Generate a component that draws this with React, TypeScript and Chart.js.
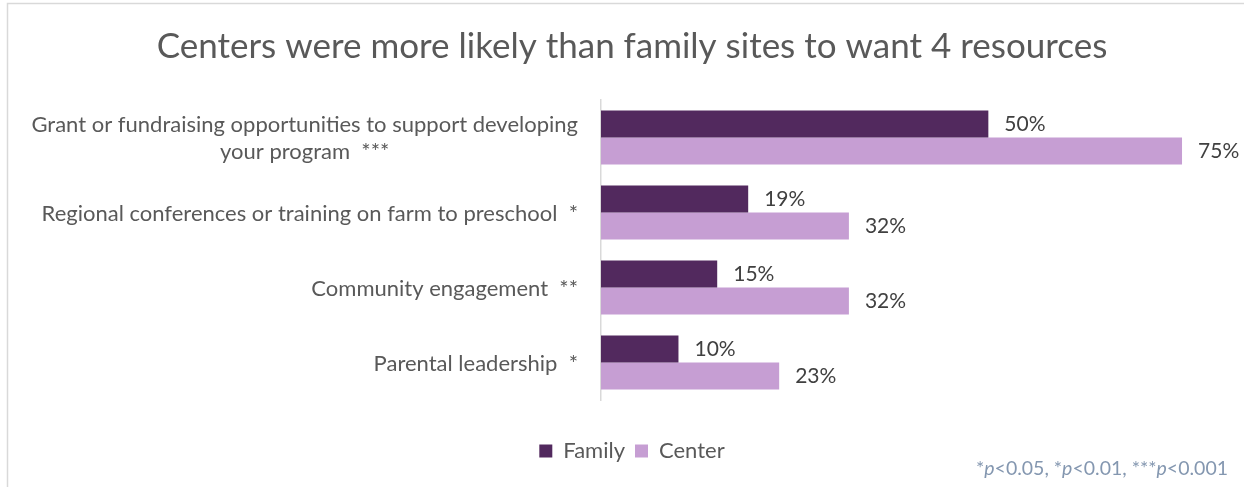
import React, { useEffect, useRef } from "react";
import { Chart, registerables } from "chart.js";

Chart.register(...registerables);

const categoryLines: string[][] = [
  ["Grant or fundraising opportunities to support developing", "your program  ***"],
  ["Regional conferences or training on farm to preschool  *"],
  ["Community engagement  **"],
  ["Parental leadership  *"],
];
const seriesNames = ["Family", "Center"];
const familyValues = [50, 19, 15, 10];
const centerValues = [75, 32, 32, 23];
const titleText = "Centers were more likely than family sites to want 4 resources";
const footnoteParts = [
  { t: "*", i: false },
  { t: "p", i: true },
  { t: "<0.05, *", i: false },
  { t: "p", i: true },
  { t: "<0.01, ***", i: false },
  { t: "p", i: true },
  { t: "<0.001", i: false },
];

const FONT = "Lato, 'Open Sans', sans-serif";
const FAMILY_COLOR = "#52295e";
const CENTER_COLOR = "#c69ed3";

const customPlugin = {
  id: "customDraw",
  beforeDraw(chart: any) {
    const ctx = chart.ctx;
    ctx.save();
    ctx.strokeStyle = "#d9d9d9";
    ctx.lineWidth = 1.5;
    ctx.beginPath();
    ctx.moveTo(7.5, 520);
    ctx.lineTo(7.5, 3.5);
    ctx.lineTo(1260, 3.5);
    ctx.stroke();
    ctx.restore();
  },
  afterDraw(chart: any) {
    const ctx = chart.ctx;
    const y = chart.scales.y;
    ctx.save();
    // category labels
    ctx.font = `22px ${FONT}`;
    ctx.fillStyle = "#595959";
    ctx.textBaseline = "middle";
    ctx.textAlign = "center";
    const rightX = chart.chartArea.left - 23;
    categoryLines.forEach((lines, i) => {
      const cy = y.getPixelForValue(i);
      const maxW = Math.max(...lines.map((l) => ctx.measureText(l).width));
      const lh = 27;
      lines.forEach((l, j) => {
        const ly = cy + 1 + (j - (lines.length - 1) / 2) * lh;
        ctx.fillText(l, rightX - maxW / 2, ly);
      });
    });
    // value labels
    ctx.font = `21px ${FONT}`;
    ctx.fillStyle = "#404040";
    ctx.textAlign = "left";
    chart.data.datasets.forEach((ds: any, di: number) => {
      const meta = chart.getDatasetMeta(di);
      meta.data.forEach((bar: any, i: number) => {
        ctx.fillText(`${ds.data[i]}%`, bar.x + 16, bar.y);
      });
    });
    // footnote
    ctx.fillStyle = "#8497b0";
    ctx.textBaseline = "alphabetic";
    const fsize = 19.5;
    let total = 0;
    footnoteParts.forEach((p) => {
      ctx.font = `${p.i ? "italic " : ""}${fsize}px ${FONT}`;
      total += ctx.measureText(p.t).width;
    });
    let x = 1228 - total;
    footnoteParts.forEach((p) => {
      ctx.font = `${p.i ? "italic " : ""}${fsize}px ${FONT}`;
      ctx.fillText(p.t, x, 475);
      x += ctx.measureText(p.t).width;
    });
    ctx.restore();
  },
};

export default function App() {
  const ref = useRef<HTMLCanvasElement>(null);
  useEffect(() => {
    if (!ref.current) return;
    const chart = new Chart(ref.current, {
      type: "bar",
      data: {
        labels: categoryLines.map((l) => l.join(" ")),
        datasets: [
          {
            label: seriesNames[0],
            data: familyValues,
            backgroundColor: FAMILY_COLOR,
            barPercentage: 1,
            categoryPercentage: 0.72,
          },
          {
            label: seriesNames[1],
            data: centerValues,
            backgroundColor: CENTER_COLOR,
            barPercentage: 1,
            categoryPercentage: 0.72,
          },
        ],
      },
      options: {
        indexAxis: "y",
        responsive: false,
        animation: false,
        layout: { padding: { left: 20, right: 0, top: 0, bottom: 15 } },
        plugins: {
          title: {
            display: true,
            text: titleText,
            color: "#595959",
            font: { size: 35, family: FONT, weight: "normal" },
            padding: { top: 26, bottom: 32 },
          },
          legend: {
            display: true,
            position: "bottom",
            labels: {
              boxWidth: 13,
              boxHeight: 13,
              color: "#595959",
              font: { size: 22, family: FONT },
              padding: 10,
            },
          },
          tooltip: { enabled: false },
        },
        scales: {
          x: {
            min: 0,
            max: 83,
            grid: { display: false },
            border: { display: false },
            ticks: { display: false },
            afterFit: (s: any) => {
              s.height = 30;
            },
          },
          y: {
            grid: { display: false },
            border: { display: true, color: "#d9d9d9", width: 1.5 },
            ticks: { display: false },
            afterFit: (s: any) => {
              s.width = 581;
            },
          },
        },
      } as any,
      plugins: [customPlugin],
    });
    return () => chart.destroy();
  }, []);
  return (
    <div style={{ position: "fixed", left: 0, top: 0, width: 1244, height: 487, background: "#fff" }}>
      <canvas ref={ref} width={1244} height={487} style={{ display: "block" }} />
    </div>
  );
}
